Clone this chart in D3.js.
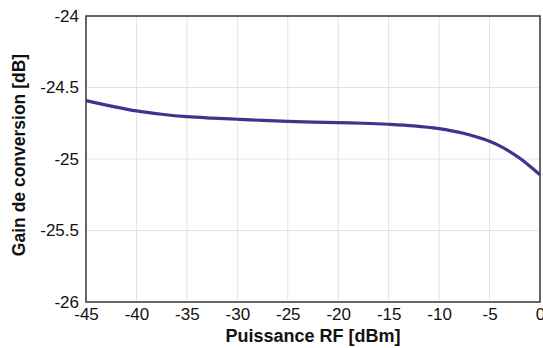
<!DOCTYPE html>
<html><head><meta charset="utf-8">
<script src="https://cdn.jsdelivr.net/npm/d3@7"></script>
<style>body{margin:0;background:#fff}svg{display:block}</style>
</head><body>
<script>
const powerDbm = [-45,-42.5,-40,-37.5,-35,-32.5,-30,-27.5,-25,-22.5,-20,-17.5,-15,-12.5,-10,-8.75,-7.5,-6.25,-5,-4,-3,-2,-1,0];
const gainDb  = [-24.592,-24.63,-24.664,-24.687,-24.704,-24.714,-24.722,-24.73,-24.737,-24.742,-24.746,-24.75,-24.757,-24.768,-24.788,-24.803,-24.822,-24.846,-24.876,-24.908,-24.948,-24.995,-25.05,-25.11];
const xTicks = [-45,-40,-35,-30,-25,-20,-15,-10,-5,0];
const yTicks = [-26,-25.5,-25,-24.5,-24];

const W=543,H=348, L=86, R=540, T=16, B=302;
const svg=d3.select("body").append("svg").attr("width",W).attr("height",H);
const x=d3.scaleLinear().domain([-45,0]).range([L,R]);
const y=d3.scaleLinear().domain([-26,-24]).range([B,T]);
const font="Liberation Sans, Arial, sans-serif";
const fmt=d=>String(d);

// grid
svg.append("g").selectAll("line").data(xTicks).join("line")
  .attr("x1",d=>x(d)).attr("x2",d=>x(d)).attr("y1",T).attr("y2",B)
  .attr("stroke","#e3e3e3").attr("stroke-width",1);
svg.append("g").selectAll("line").data(yTicks).join("line")
  .attr("x1",L).attr("x2",R).attr("y1",d=>y(d)).attr("y2",d=>y(d))
  .attr("stroke","#e3e3e3").attr("stroke-width",1);

// axes (labels only)
const xa=svg.append("g").attr("transform",`translate(0,${B})`)
  .call(d3.axisBottom(x).tickValues(xTicks).tickSize(0).tickPadding(6).tickFormat(fmt));
xa.select(".domain").remove();
xa.selectAll("text").attr("font-family",font).attr("font-size",17).attr("fill","#111");
const ya=svg.append("g").attr("transform",`translate(${L},0)`)
  .call(d3.axisLeft(y).tickValues(yTicks).tickSize(0).tickPadding(7).tickFormat(fmt));
ya.select(".domain").remove();
ya.selectAll("text").attr("font-family",font).attr("font-size",17).attr("fill","#111");

// frame
svg.append("rect").attr("x",L).attr("y",T).attr("width",R-L).attr("height",B-T)
  .attr("fill","none").attr("stroke","#444").attr("stroke-width",1.6);

// line
svg.append("path").datum(powerDbm.map((p,i)=>[p,gainDb[i]]))
  .attr("d",d3.line().x(d=>x(d[0])).y(d=>y(d[1])).curve(d3.curveMonotoneX))
  .attr("fill","none").attr("stroke","#40338f").attr("stroke-width",3.2);

// titles
svg.append("text").attr("x",(L+R)/2).attr("y",342).attr("text-anchor","middle")
  .attr("font-family",font).attr("font-size",18).attr("font-weight","bold").attr("fill","#111")
  .text("Puissance RF [dBm]");
svg.append("text").attr("transform",`translate(25,155) rotate(-90)`).attr("text-anchor","middle")
  .attr("font-family",font).attr("font-size",17.5).attr("font-weight","bold").attr("fill","#111")
  .text("Gain de conversion [dB]");
</script>
</body></html>
